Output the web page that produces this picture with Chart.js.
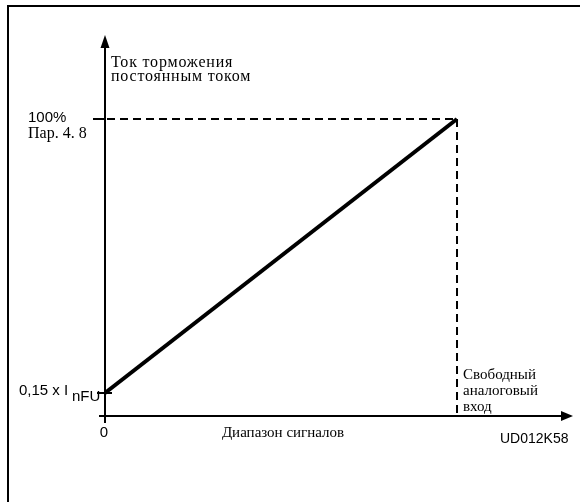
<!DOCTYPE html>
<html>
<head>
<meta charset="utf-8">
<script src="https://cdn.jsdelivr.net/npm/chart.js@4"></script>
<style>
  body { margin: 0; background: #fff; }
  canvas { display: block; }
</style>
</head>
<body>
<canvas id="brakeChart" width="580" height="502"></canvas>
<script>
// signal range (% of analog input) vs DC braking current (% of par. 4.8)
const signal = [0, 100];
const current = [15, 100];

const yTitle = ['Ток торможения', 'постоянным током'];
const xTitle = 'Диапазон сигналов';
const xEndLabel = ['Свободный', 'аналоговый', 'вход'];
const topTick = ['100%', 'Пар. 4. 8'];
const lowTick = ['0,15 x I', 'nFU'];
const originTick = '0';
const figureCode = 'UD012K58';

const SERIF = '"Liberation Serif", "DejaVu Serif", serif';
const SANS = '"Liberation Sans", Arial, sans-serif';

const points = signal.map((s, i) => ({ x: s, y: current[i] }));

const diagram = {
    id: 'diagram',
    beforeDatasetsDraw(chart) {
        const { ctx, chartArea: a, scales: { x, y } } = chart;
        ctx.save();
        ctx.strokeStyle = '#000';
        ctx.fillStyle = '#000';

        // page frame
        ctx.lineWidth = 2;
        ctx.beginPath();
        ctx.moveTo(8, 502);
        ctx.lineTo(8, 6);
        ctx.lineTo(580, 6);
        ctx.stroke();

        // axes
        const x0 = x.getPixelForValue(0);
        ctx.lineWidth = 2;
        ctx.beginPath();
        ctx.moveTo(x0, a.bottom + 7);
        ctx.lineTo(x0, a.top + 4);
        ctx.moveTo(x0 - 6, a.bottom);
        ctx.lineTo(a.right - 8, a.bottom);
        ctx.stroke();

        // arrow heads
        ctx.beginPath();
        ctx.moveTo(x0, a.top - 5);
        ctx.lineTo(x0 + 4.5, a.top + 8);
        ctx.lineTo(x0 - 4.5, a.top + 8);
        ctx.closePath();
        ctx.fill();
        ctx.beginPath();
        ctx.moveTo(a.right, a.bottom);
        ctx.lineTo(a.right - 12, a.bottom - 5);
        ctx.lineTo(a.right - 12, a.bottom + 5);
        ctx.closePath();
        ctx.fill();

        // dashed guides to the 100 % point
        const px = x.getPixelForValue(signal[1]);
        const py = y.getPixelForValue(current[1]);
        ctx.lineWidth = 2;
        ctx.setLineDash([8, 5]);
        ctx.beginPath();
        ctx.moveTo(x0 + 2, py);
        ctx.lineTo(px, py);
        ctx.moveTo(px, py);
        ctx.lineTo(px, a.bottom);
        ctx.stroke();
        ctx.setLineDash([]);

        // ticks
        const ly = y.getPixelForValue(current[0]);
        ctx.lineWidth = 2;
        ctx.beginPath();
        ctx.moveTo(x0 - 12, py);
        ctx.lineTo(x0, py);
        ctx.moveTo(x0 - 8, ly);
        ctx.lineTo(x0 + 7, ly);
        ctx.stroke();
        ctx.restore();
    },
    afterDraw(chart) {
        const { ctx, chartArea: a, scales: { x, y } } = chart;
        const x0 = x.getPixelForValue(0);
        const px = x.getPixelForValue(signal[1]);
        const py = y.getPixelForValue(current[1]);
        const ly = y.getPixelForValue(current[0]);
        ctx.save();
        ctx.fillStyle = '#000';
        ctx.textBaseline = 'alphabetic';
        ctx.textAlign = 'left';

        ctx.font = '16px ' + SERIF;
        ctx.letterSpacing = '0.8px';
        ctx.fillText(yTitle[0], x0 + 6, 67);
        ctx.fillText(yTitle[1], x0 + 6, 81);

        ctx.letterSpacing = '0px';
        ctx.font = '15px ' + SANS;
        ctx.fillText(topTick[0], 28, py + 3);
        ctx.font = '16px ' + SERIF;
        ctx.fillText(topTick[1], 28, py + 19);

        ctx.font = '15px ' + SANS;
        ctx.fillText(lowTick[0], 19, ly + 2);
        ctx.fillText(lowTick[1], 72, ly + 8);

        ctx.textAlign = 'center';
        ctx.fillText(originTick, x0 - 1, a.bottom + 21);
        ctx.font = '15px ' + SERIF;
        ctx.fillText(xTitle, 283, a.bottom + 21);

        ctx.textAlign = 'left';
        ctx.font = '15px ' + SERIF;
        xEndLabel.forEach((t, i) => ctx.fillText(t, px + 6, a.bottom - 37 + i * 16));

        ctx.font = '14px ' + SANS;
        ctx.fillText(figureCode, 500, a.bottom + 27);
        ctx.restore();
    }
};

new Chart(document.getElementById('brakeChart'), {
    type: 'scatter',
    data: {
        datasets: [{
            data: points,
            showLine: true,
            borderColor: '#000',
            borderWidth: 4,
            pointRadius: 0,
            borderCapStyle: 'butt'
        }]
    },
    options: {
        responsive: false,
        animation: false,
        layout: { padding: { left: 105, right: 7, top: 40, bottom: 86 } },
        scales: {
            x: { type: 'linear', display: false, min: 0, max: 132.95 },
            y: { type: 'linear', display: false, min: 7.865, max: 124.51 }
        },
        plugins: {
            legend: { display: false },
            tooltip: { enabled: false }
        }
    },
    plugins: [diagram]
});
</script>
</body>
</html>
